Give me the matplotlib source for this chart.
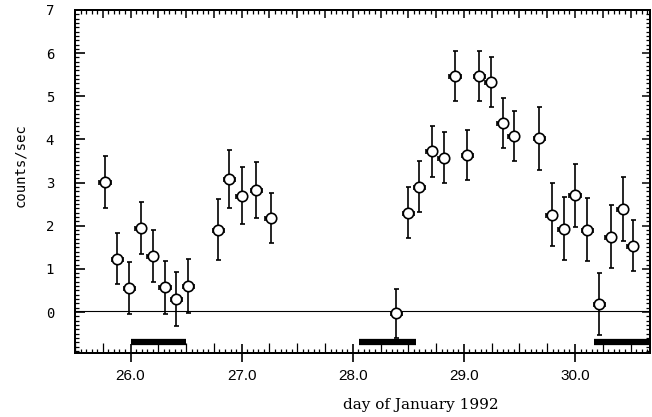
import matplotlib
matplotlib.use('Agg')
import matplotlib.pyplot as plt
from matplotlib.ticker import MultipleLocator, NullFormatter, FormatStrFormatter

# data
day = [25.77, 25.88, 25.99, 26.09, 26.20, 26.31, 26.41, 26.52,
       26.79, 26.89, 27.00, 27.13, 27.26,
       28.39, 28.50, 28.60, 28.71, 28.82, 28.92, 29.03, 29.14, 29.24,
       29.35, 29.45, 29.68, 29.79, 29.90, 30.00, 30.11, 30.22, 30.32,
       30.43, 30.52]
counts = [3.02, 1.24, 0.55, 1.95, 1.30, 0.57, 0.30, 0.61,
          1.91, 3.09, 2.69, 2.82, 2.17,
          -0.03, 2.30, 2.90, 3.73, 3.58, 5.48, 3.63, 5.46, 5.33,
          4.38, 4.09, 4.03, 2.25, 1.93, 2.71, 1.91, 0.18, 1.74,
          2.39, 1.54]
err = [0.60, 0.60, 0.60, 0.60, 0.61, 0.62, 0.63, 0.63,
       0.70, 0.67, 0.66, 0.65, 0.58,
       0.57, 0.59, 0.59, 0.59, 0.59, 0.58, 0.58, 0.58, 0.58,
       0.58, 0.58, 0.73, 0.73, 0.73, 0.73, 0.73, 0.72, 0.73,
       0.74, 0.59]
bin_half = 0.05
background = 0.03

# observation windows (black bars)
win_start = [26.0, 28.06, 30.17]
win_end = [26.5, 28.57, 30.68]
win_level = -0.70

fig = plt.figure(figsize=(6.52, 4.17), dpi=100)
ax = fig.add_axes([75/652, 1 - 353/417, 575/652, 343/417])

ax.errorbar(day, counts, yerr=err, xerr=bin_half, fmt='o', color='black',
            mfc='white', mec='black', ms=7.5, mew=1.2, elinewidth=1.2,
            capsize=1.8, capthick=1.2)
ax.axhline(background, color='black', lw=0.8)
ax.hlines([win_level]*len(win_start), win_start, win_end, colors='black',
          lw=4.5, capstyle='butt')

ax.set_xlim(25.5, 30.675)
ax.set_ylim(-0.95, 7)

# bottom / left ticks
ax.xaxis.set_major_locator(MultipleLocator(1))
ax.xaxis.set_minor_locator(MultipleLocator(0.05))
ax.xaxis.set_major_formatter(FormatStrFormatter('%.1f'))
ax.yaxis.set_major_locator(MultipleLocator(1))
ax.yaxis.set_minor_locator(MultipleLocator(0.1))
ax.tick_params(axis='x', which='major', direction='inout', length=13, width=1.2,
               pad=5, labelsize=11, top=False)
ax.tick_params(axis='x', which='minor', direction='in', length=3, width=0.9, top=False)
ax.tick_params(axis='y', which='major', direction='in', length=7, width=1.2,
               pad=15, labelsize=10, right=False)
ax.tick_params(axis='y', which='minor', direction='in', length=3, width=0.9, right=False)
for lab in ax.get_xticklabels():
    lab.set_family('Liberation Sans')
for lab in ax.get_yticklabels():
    lab.set_family('DejaVu Sans Mono')

# every quarter day gets a longer tick
locs = ax.xaxis.get_minorticklocs()
ticks = ax.xaxis.get_minor_ticks(len(locs))
for loc, t in zip(locs, ticks):
    if abs(loc / 0.25 - round(loc / 0.25)) < 1e-6:
        t.tick1line.set_markersize(7)

# top and right ticks
top = ax.twiny()
top.set_xlim(ax.get_xlim())
top.xaxis.set_major_locator(MultipleLocator(0.25))
top.xaxis.set_minor_locator(MultipleLocator(0.05))
top.xaxis.set_major_formatter(NullFormatter())
top.tick_params(axis='x', which='major', direction='in', length=6, width=1.1)
top.tick_params(axis='x', which='minor', direction='in', length=3, width=0.9)

right = ax.twinx()
right.set_ylim(ax.get_ylim())
right.yaxis.set_major_locator(MultipleLocator(1))
right.yaxis.set_minor_locator(MultipleLocator(0.1))
right.yaxis.set_major_formatter(NullFormatter())
right.tick_params(axis='y', which='major', direction='in', length=6, width=1.1)
right.tick_params(axis='y', which='minor', direction='in', length=3, width=0.9)

for a in (ax, top, right):
    for s in a.spines.values():
        s.set_linewidth(1.3)

fig.text(20/652, 1 - 165/417, 'counts/sec', rotation=90, ha='center', va='center',
         fontsize=10, family='DejaVu Sans Mono')
fig.text(421/652, 1 - 405/417, 'day of January 1992', ha='center', va='center',
         fontsize=11, family='DejaVu Serif')

fig.savefig('out.png', dpi=100)
